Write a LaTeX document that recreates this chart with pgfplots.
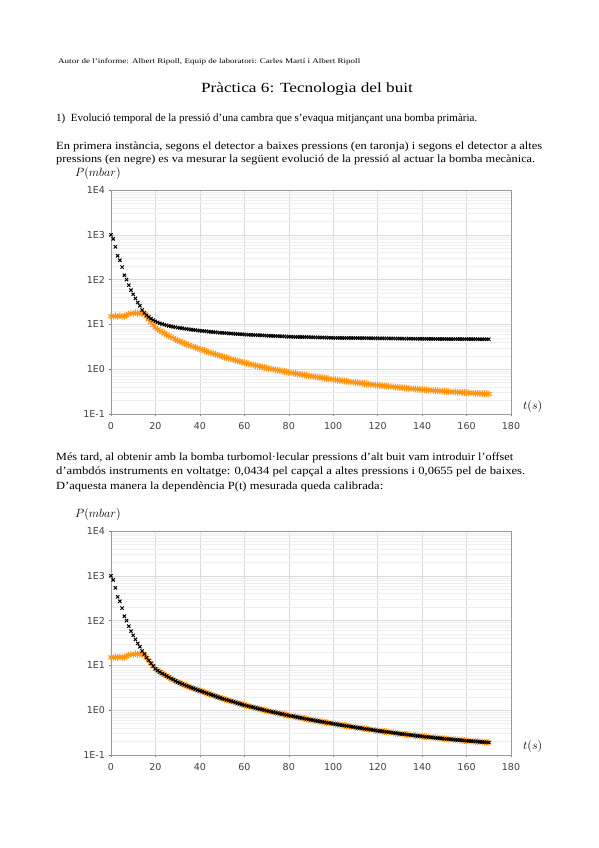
\documentclass[border=0pt]{standalone}
\usepackage{fontspec}
\setmainfont{Liberation Serif}
\newfontfamily\dejavu{DejaVu Sans}
\usepackage{graphicx}
\usepackage{pgfplots}
\usepackage{pgfplotstable}
\pgfplotsset{compat=1.18}

\definecolor{lorange}{HTML}{FF950E}
\definecolor{gridc}{HTML}{DADADA}
\definecolor{mgridc}{HTML}{EFEFEF}

\pgfplotstableread{
t b1 o1 b2 o2
0 1000 15.2 1000 15.2
1 810 14.7 810 14.7
2 540 15.5 540 15.5
3 340 15.0 340 15.0
4 270 15.6 270 15.6
5 190 14.8 190 14.8
6 125 15.3 125 15.3
7 100 16.0 100 16.0
8 75 17.0 75 17.0
9 58 17.8 58 17.8
10 47 17.3 47 17.3
11 38 18.2 38 18.2
12 31 17.6 31 17.6
13 26 18.0 26 18.0
14 21 17.6 21 17.6
15 18 17.0 18 17.0
16 16 15 14.9 14.9
17 14.6 13 12.9 12.9
18 13.4 11.2 11.1 11.1
19 12.5 9.7 9.6 9.6
20 11.7 8.5 8.4 8.4
21 11.1 7.8 7.7 7.7
22 10.6 7.2 7.1 7.1
23 10.2 6.7 6.6 6.6
24 9.85 6.3 6.2 6.2
25 9.55 5.9 5.8 5.8
26 9.3 5.55 5.45 5.45
27 9.05 5.2 5.1 5.1
28 8.85 4.9 4.8 4.8
29 8.65 4.6 4.5 4.5
30 8.5 4.35 4.25 4.25
31 8.33 4.15 4.05 4.05
32 8.18 3.95 3.85 3.85
33 8.04 3.77 3.67 3.67
34 7.91 3.6 3.5 3.5
35 7.79 3.45 3.35 3.35
36 7.67 3.3 3.2 3.2
37 7.56 3.17 3.07 3.07
38 7.45 3.04 2.94 2.94
39 7.35 2.92 2.82 2.82
40 7.25 2.80 2.709 2.709
41 7.16 2.695 2.605 2.605
42 7.07 2.594 2.504 2.504
43 6.98 2.497 2.407 2.407
44 6.90 2.404 2.314 2.314
45 6.82 2.314 2.224 2.224
46 6.75 2.228 2.138 2.138
47 6.68 2.145 2.055 2.055
48 6.61 2.065 1.975 1.975
49 6.54 1.988 1.898 1.898
50 6.48 1.914 1.824 1.824
51 6.42 1.853 1.763 1.763
52 6.36 1.795 1.705 1.705
53 6.30 1.738 1.648 1.648
54 6.25 1.683 1.593 1.593
55 6.20 1.629 1.539 1.539
56 6.15 1.578 1.488 1.488
57 6.10 1.528 1.438 1.438
58 6.05 1.479 1.389 1.389
59 6.00 1.432 1.342 1.342
60 5.95 1.387 1.297 1.297
61 5.92 1.351 1.261 1.261
62 5.88 1.315 1.225 1.225
63 5.85 1.281 1.191 1.191
64 5.82 1.247 1.157 1.157
65 5.78 1.215 1.125 1.125
66 5.75 1.183 1.093 1.093
67 5.72 1.152 1.062 1.062
68 5.69 1.122 1.032 1.032
69 5.66 1.093 1.003 1.003
70 5.62 1.064 0.974 0.974
71 5.59 1.040 0.950 0.950
72 5.56 1.017 0.927 0.927
73 5.53 0.995 0.905 0.905
74 5.50 0.972 0.882 0.882
75 5.47 0.951 0.861 0.861
76 5.44 0.929 0.839 0.839
77 5.41 0.909 0.819 0.819
78 5.38 0.889 0.799 0.799
79 5.35 0.869 0.779 0.779
80 5.32 0.849 0.759 0.759
81 5.30 0.833 0.743 0.743
82 5.29 0.817 0.727 0.727
83 5.27 0.801 0.711 0.711
84 5.26 0.785 0.695 0.695
85 5.24 0.770 0.680 0.680
86 5.23 0.755 0.665 0.665
87 5.21 0.740 0.650 0.650
88 5.20 0.726 0.636 0.636
89 5.18 0.712 0.622 0.622
90 5.17 0.698 0.608 0.608
91 5.15 0.686 0.596 0.596
92 5.14 0.675 0.585 0.585
93 5.12 0.663 0.573 0.573
94 5.11 0.652 0.562 0.562
95 5.09 0.641 0.551 0.551
96 5.08 0.630 0.540 0.540
97 5.06 0.619 0.529 0.529
98 5.05 0.608 0.518 0.518
99 5.03 0.598 0.508 0.508
100 5.02 0.588 0.498 0.498
101 5.01 0.579 0.489 0.489
102 5.01 0.570 0.480 0.480
103 5.00 0.561 0.471 0.471
104 4.99 0.552 0.462 0.462
105 4.99 0.544 0.454 0.454
106 4.98 0.536 0.446 0.446
107 4.97 0.528 0.438 0.438
108 4.97 0.519 0.429 0.429
109 4.96 0.512 0.422 0.422
110 4.95 0.504 0.414 0.414
111 4.95 0.497 0.407 0.407
112 4.94 0.490 0.400 0.400
113 4.93 0.483 0.393 0.393
114 4.93 0.476 0.386 0.386
115 4.92 0.470 0.380 0.380
116 4.91 0.463 0.373 0.373
117 4.91 0.457 0.367 0.367
118 4.90 0.451 0.361 0.361
119 4.89 0.445 0.355 0.355
120 4.89 0.439 0.349 0.349
121 4.88 0.433 0.343 0.343
122 4.87 0.428 0.338 0.338
123 4.87 0.423 0.333 0.333
124 4.86 0.418 0.328 0.328
125 4.85 0.413 0.323 0.323
126 4.85 0.408 0.318 0.318
127 4.84 0.403 0.313 0.313
128 4.83 0.398 0.308 0.308
129 4.83 0.394 0.304 0.304
130 4.82 0.389 0.299 0.299
131 4.81 0.385 0.295 0.295
132 4.81 0.381 0.291 0.291
133 4.80 0.377 0.287 0.287
134 4.79 0.373 0.283 0.283
135 4.79 0.369 0.279 0.279
136 4.78 0.365 0.275 0.275
137 4.78 0.361 0.271 0.271
138 4.77 0.357 0.267 0.267
139 4.77 0.354 0.264 0.264
140 4.76 0.350 0.260 0.260
141 4.76 0.347 0.257 0.257
142 4.75 0.344 0.254 0.254
143 4.75 0.341 0.251 0.251
144 4.75 0.338 0.248 0.248
145 4.74 0.335 0.245 0.245
146 4.74 0.332 0.242 0.242
147 4.73 0.329 0.239 0.239
148 4.73 0.326 0.236 0.236
149 4.73 0.324 0.234 0.234
150 4.72 0.321 0.231 0.231
151 4.72 0.318 0.228 0.228
152 4.71 0.316 0.226 0.226
153 4.71 0.314 0.224 0.224
154 4.71 0.311 0.221 0.221
155 4.70 0.309 0.219 0.219
156 4.70 0.307 0.217 0.217
157 4.70 0.305 0.215 0.215
158 4.69 0.302 0.212 0.212
159 4.69 0.300 0.210 0.210
160 4.69 0.298 0.208 0.208
161 4.68 0.296 0.206 0.206
162 4.68 0.294 0.204 0.204
163 4.68 0.292 0.202 0.202
164 4.67 0.291 0.201 0.201
165 4.67 0.289 0.199 0.199
166 4.67 0.287 0.197 0.197
167 4.66 0.285 0.195 0.195
168 4.66 0.283 0.193 0.193
169 4.66 0.282 0.192 0.192
170 4.66 0.280 0.190 0.190
}\data

\pgfplotsset{myax/.style={
  scale only axis, width=400pt, height=224pt, anchor=south west,
  xmin=0, xmax=180, ymin=0.1, ymax=10000,
  xtick={0,20,40,60,80,100,120,140,160,180},
  xticklabels={0,20,40,60,80,100,120,140,160,180},
  ytick={0.1,1,10,100,1000,10000},
  yticklabels={1E-1,1E0,1E1,1E2,1E3,1E4},
  minor ytick={0.2,0.3,0.4,0.5,0.6,0.7,0.8,0.9,2,3,4,5,6,7,8,9,20,30,40,50,60,70,80,90,200,300,400,500,600,700,800,900,2000,3000,4000,5000,6000,7000,8000,9000},
  xmajorgrids, ymajorgrids, yminorgrids,
  major grid style={gridc, line width=0.5pt},
  minor grid style={mgridc, line width=0.4pt},
  axis line style={black!40, line width=0.6pt},
  tick align=outside, major tick length=2.5pt, minor tick length=0pt,
  xtick pos=bottom, ytick pos=left,
  tick style={black!50, line width=0.5pt},
  tick label style={font=\dejavu\fontsize{9.5}{10}\selectfont, text=black!75},
  xticklabel style={yshift=-2pt},
  clip=false,
}}

\newcommand{\tline}[2]{\resizebox{#1}{\height}{\fontsize{11}{13}\selectfont #2}}

\begin{document}
\begin{tikzpicture}
\path[use as bounding box, fill=white] (0pt,0pt) rectangle (599pt,848pt);

\node[anchor=west, inner sep=0] at (58pt,786pt) {\resizebox{302pt}{\height}{\fontsize{7}{8}\selectfont Autor de l’informe: Albert Ripoll, Equip de laboratori: Carles Martí i Albert Ripoll}};
\node[inner sep=0] at (307pt,759pt) {\resizebox{212pt}{\height}{\fontsize{14}{16}\selectfont Pràctica 6: Tecnologia del buit}};
\node[anchor=west, inner sep=0] at (56pt,729pt) {\tline{421pt}{1)\ \ Evolució temporal de la pressió d’una cambra que s’evaqua mitjançant una bomba primària.}};
\node[anchor=west, inner sep=0] at (56pt,701pt) {\tline{486pt}{En primera instància, segons el detector a baixes pressions (en taronja) i segons el detector a altes}};
\node[anchor=west, inner sep=0] at (56pt,688pt) {\tline{479pt}{pressions (en negre) es va mesurar la següent evolució de la pressió al actuar la bomba mecànica.}};
\node[anchor=west, inner sep=0] at (75pt,674pt) {\fontsize{12}{14}\selectfont $P(mbar)$};

\begin{axis}[myax, ymode=log, at={(111pt,434pt)}]
\addplot[only marks, mark=asterisk, mark size=3.4pt, color=lorange, line width=0.9pt] table[x=t,y=o1]{\data};
\addplot[only marks, mark=x, mark size=2.3pt, color=black, line width=1pt] table[x=t,y=b1]{\data};
\end{axis}
\node[anchor=west, inner sep=0] at (523pt,441pt) {\fontsize{12}{14}\selectfont $t(s)$};

\node[anchor=west, inner sep=0] at (56pt,390pt) {\tline{457pt}{Més tard, al obtenir amb la bomba turbomol·lecular pressions d’alt buit vam introduir l’offset}};
\node[anchor=west, inner sep=0] at (56pt,376pt) {\tline{469pt}{d’ambdós instruments en voltatge: 0,0434 pel capçal a altes pressions i 0,0655 pel de baixes.}};
\node[anchor=west, inner sep=0] at (56pt,361pt) {\tline{327pt}{D’aquesta manera la dependència P(t) mesurada queda calibrada:}};
\node[anchor=west, inner sep=0] at (75pt,333pt) {\fontsize{12}{14}\selectfont $P(mbar)$};

\begin{axis}[myax, ymode=log, at={(111pt,93pt)}]
\addplot[only marks, mark=asterisk, mark size=3.4pt, color=lorange, line width=0.9pt] table[x=t,y=o2]{\data};
\addplot[only marks, mark=x, mark size=2.3pt, color=black, line width=1pt] table[x=t,y=b2]{\data};
\end{axis}
\node[anchor=west, inner sep=0] at (523pt,101pt) {\fontsize{12}{14}\selectfont $t(s)$};
\end{tikzpicture}
\end{document}
